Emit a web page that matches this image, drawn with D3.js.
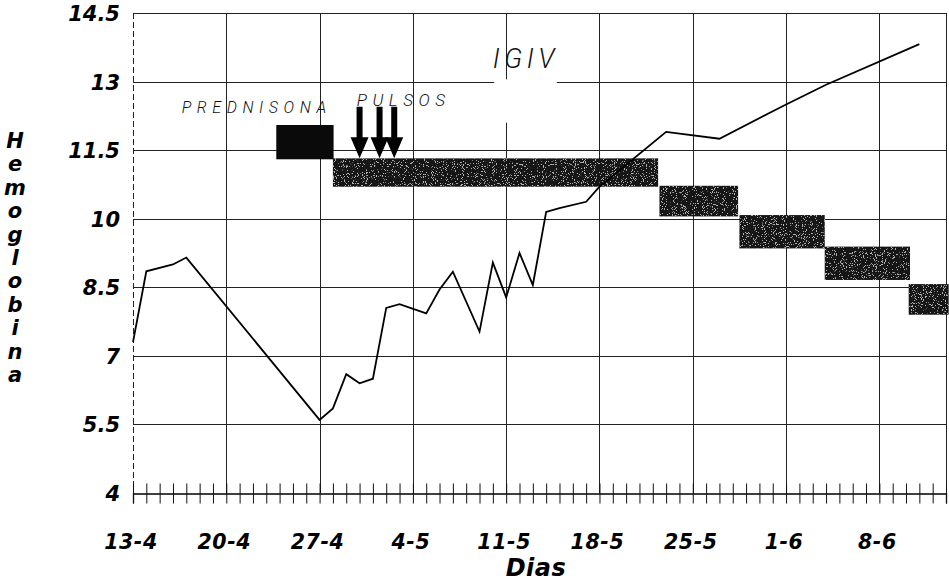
<!DOCTYPE html>
<html>
<head>
<meta charset="utf-8">
<script src="https://cdn.jsdelivr.net/npm/d3@7"></script>
<style>
    html, body { margin: 0; padding: 0; background: #fff; }
    svg { display: block; }
    .bold { font-family: "DejaVu Sans", "Liberation Sans", sans-serif; font-weight: bold; font-style: italic; fill: #000; }
    .thin { font-family: Roboto, "Open Sans", sans-serif; font-weight: 300; font-style: italic; fill: #111; }
</style>
</head>
<body>
<div id="chart"></div>
<script>
// days counted from 13-4
const dias = [0, 1, 3, 4, 14, 15, 16, 17, 18, 19, 20, 22, 23, 24, 26, 27, 28, 29, 30, 31, 32, 34, 35, 40, 44, 49, 52, 59];
const hemoglobina = [7.3, 8.85, 9.0, 9.15, 5.6, 5.85, 6.6, 6.4, 6.5, 8.05, 8.13, 7.93, 8.45, 8.84, 7.53, 9.04, 8.28, 9.25, 8.55, 10.15, 10.23, 10.37, 10.7, 11.9, 11.75, 12.5, 12.93, 13.82];

const tickDias = [0, 7, 14, 21, 28, 35, 42, 49, 56];
const tickLabels = ["13-4", "20-4", "27-4", "4-5", "11-5", "18-5", "25-5", "1-6", "8-6"];
const yTicks = [4, 5.5, 7, 8.5, 10, 11.5, 13, 14.5];

// treatment blocks (prednisona, then tapering doses)
const barStart = [10.75, 15, 39.5, 45.5, 51.9, 58.2];
const barEnd = [15.05, 39.4, 45.4, 51.9, 58.3, 61.2];
const barLow = [11.3, 10.7, 10.05, 9.35, 8.66, 7.9];
const barHigh = [12.05, 11.32, 10.72, 10.08, 9.39, 8.57];

const pulsos = [17, 18.5, 19.6];

let width = 949, height = 582;
let x = d3.scaleLinear().domain([0, 61]).range([133, 946]);
let y = d3.scaleLinear().domain([4, 14.5]).range([493, 13]);

let svg = d3.select("#chart")
    .append("svg")
    .attr("width", width)
    .attr("height", height);

let defs = svg.append("defs");
let grain = defs.append("filter")
    .attr("id", "grain")
    .attr("x", 0).attr("y", 0).attr("width", 1).attr("height", 1);
grain.append("feTurbulence")
    .attr("type", "fractalNoise")
    .attr("baseFrequency", 0.9)
    .attr("numOctaves", 2)
    .attr("seed", 5)
    .attr("result", "n");
grain.append("feColorMatrix")
    .attr("in", "n")
    .attr("type", "matrix")
    .attr("values", "0 0 0 0 0.45  0 0 0 0 0.45  0 0 0 0 0.45  0 0 0 -20 7.6")
    .attr("result", "specks");
grain.append("feComposite")
    .attr("in", "specks")
    .attr("in2", "SourceGraphic")
    .attr("operator", "in")
    .attr("result", "s");
let merge = grain.append("feMerge");
merge.append("feMergeNode").attr("in", "SourceGraphic");
merge.append("feMergeNode").attr("in", "s");

// grid
let grid = svg.append("g")
    .attr("stroke", "#222")
    .attr("stroke-width", 1)
    .attr("shape-rendering", "crispEdges");

grid.selectAll("line.h")
    .data(yTicks.slice(1))
    .enter().append("line")
    .attr("class", "h")
    .attr("x1", x(0)).attr("x2", x(61))
    .attr("y1", d => Math.round(y(d)) + 0.5)
    .attr("y2", d => Math.round(y(d)) + 0.5);

grid.selectAll("line.v")
    .data(tickDias.concat([61]))
    .enter().append("line")
    .attr("class", "v")
    .attr("y1", y(14.5)).attr("y2", y(4))
    .attr("x1", d => Math.round(x(d)) + 0.5)
    .attr("x2", d => Math.round(x(d)) + 0.5)
    .attr("stroke-dasharray", d => d === 0 ? "6,3" : null);

// white patch under the IGIV label, as in the scan
svg.append("rect")
    .attr("x", x(27.1))
    .attr("y", y(13.05))
    .attr("width", x(31.8) - x(27.1))
    .attr("height", y(12.1) - y(13.05))
    .attr("fill", "#fff");

// bottom axis with daily ticks
let xAxis = d3.axisBottom(x)
    .tickValues(d3.range(0, 62))
    .tickSize(10)
    .tickFormat("");
let axisG = svg.append("g")
    .attr("transform", `translate(0,${Math.round(y(4)) + 0.5})`)
    .call(xAxis);
axisG.select(".domain").attr("stroke", "#000").attr("stroke-width", 1.3);
axisG.selectAll(".tick line")
    .attr("y1", -10)
    .attr("stroke", "#111");

// treatment bars
let bars = svg.append("g");
bars.selectAll("rect")
    .data(barStart)
    .enter().append("rect")
    .attr("x", (d, i) => x(d))
    .attr("width", (d, i) => x(barEnd[i]) - x(d))
    .attr("y", (d, i) => y(barHigh[i]))
    .attr("height", (d, i) => y(barLow[i]) - y(barHigh[i]))
    .attr("fill", (d, i) => i === 0 ? "#0a0a0a" : "#161616")
    .attr("filter", (d, i) => i === 0 ? null : "url(#grain)");

// hemoglobin line
let line = d3.line()
    .x(d => x(d[0]))
    .y(d => y(d[1]));
svg.append("path")
    .datum(dias.map((d, i) => [d, hemoglobina[i]]))
    .attr("fill", "none")
    .attr("stroke", "#000")
    .attr("stroke-width", 1.8)
    .attr("stroke-linejoin", "miter")
    .attr("d", line);

// pulse arrows
let arrows = svg.append("g").attr("fill", "#000");
arrows.selectAll("path")
    .data(pulsos)
    .enter().append("path")
    .attr("d", d => {
        let cx = x(d), top = y(12.45), neck = y(11.78), tip = y(11.32);
        return `M${cx - 3},${top}L${cx + 3},${top}L${cx + 3},${neck}L${cx + 9},${neck}` +
            `L${cx},${tip}L${cx - 9},${neck}L${cx - 3},${neck}Z`;
    });

// y tick labels
svg.append("g").selectAll("text")
    .data(yTicks)
    .enter().append("text")
    .attr("class", "bold")
    .attr("x", 120)
    .attr("y", d => y(d) + 8)
    .attr("text-anchor", "end")
    .attr("font-size", 21)
    .text(d => d);

// x tick labels
svg.append("g").selectAll("text")
    .data(tickDias)
    .enter().append("text")
    .attr("class", "bold")
    .attr("x", d => x(d) - 2)
    .attr("y", 549)
    .attr("text-anchor", "middle")
    .attr("font-size", 20.5)
    .attr("letter-spacing", 0.6)
    .text((d, i) => tickLabels[i]);

svg.append("text")
    .attr("class", "bold")
    .attr("x", 536)
    .attr("y", 576)
    .attr("text-anchor", "middle")
    .attr("font-size", 24)
    .attr("letter-spacing", 0.5)
    .text("Dias");

// vertical axis title, one letter per row
svg.append("g").selectAll("text")
    .data("Hemoglobina".split(""))
    .enter().append("text")
    .attr("class", "bold")
    .attr("x", 15)
    .attr("y", (d, i) => 148 + i * 23.4)
    .attr("text-anchor", "middle")
    .attr("font-size", 21)
    .text(d => d);

// annotations
svg.append("text")
    .attr("class", "thin")
    .attr("x", x(3.65))
    .attr("y", y(12.32))
    .attr("font-size", 16)
    .attr("letter-spacing", 5.6)
    .text("PREDNISONA");

svg.append("text")
    .attr("class", "thin")
    .attr("x", x(16.78))
    .attr("y", y(12.47))
    .attr("font-size", 17)
    .attr("letter-spacing", 5.6)
    .text("PULSOS");

svg.append("text")
    .attr("class", "thin")
    .attr("x", x(27.0))
    .attr("y", y(13.3))
    .attr("font-size", 27)
    .attr("letter-spacing", 4.5)
    .text("IGIV");
</script>
</body>
</html>
